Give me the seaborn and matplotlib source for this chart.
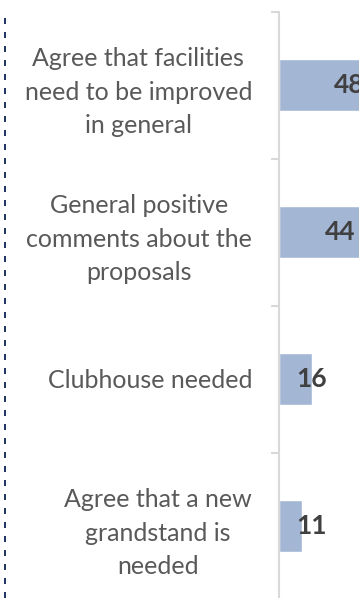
import seaborn as sns
import matplotlib.pyplot as plt
from matplotlib.lines import Line2D
from matplotlib.ticker import FixedLocator

categories = [
    "Agree that facilities\nneed to be improved\nin general",
    "General positive\ncomments about the\nproposals",
    "Clubhouse needed",
    "Agree that a new\ngrandstand is\nneeded",
]
values = [48, 44, 16, 11]

sns.set_style("white")
plt.rcParams['font.family'] = ['Lato', 'DejaVu Sans']

W, H = 359, 598
fig = plt.figure(figsize=(W / 100, H / 100), dpi=100)
# axes extends past the right/bottom edge like the cropped original
ax = fig.add_axes([278.5 / W, 1 - 599.5 / H, 106 / W, 588 / H])

sns.barplot(x=values, y=categories, orient="h", color="#A3B7D5",
            width=0.36, saturation=1, ax=ax)

ax.set_xlim(0, 50)
ax.set_ylim(3.5, -0.5)
ax.set_xlabel("")
ax.set_ylabel("")
ax.set_xticks([])

for s in ["top", "right", "bottom"]:
    ax.spines[s].set_visible(False)
ax.spines["left"].set_color("#D9D9D9")
ax.spines["left"].set_linewidth(1.5)

ax.yaxis.set_minor_locator(FixedLocator([-0.5, 0.5, 1.5, 2.5]))
ax.tick_params(axis="y", which="minor", length=6, width=1.5, color="#D9D9D9", left=True)
ax.tick_params(axis="y", which="major", length=0, pad=19, labelsize=18, labelcolor="#595959")
for lbl in ax.get_yticklabels():
    lbl.set_multialignment("center")
    lbl.set_linespacing(1.55)

for i, v in enumerate(values):
    ax.text(max(v - 22, 8.2), i, str(v), ha="left", va="center",
            fontsize=19, fontweight="bold", color="#404040", clip_on=False)

# dashed separator on the far left
fig.add_artist(Line2D([5 / W, 5 / W], [0, 1 - 11 / H], transform=fig.transFigure,
                      color="#1F3864", lw=1.44, linestyle=(0, (3, 4))))

plt.savefig("out.png", dpi=100)
